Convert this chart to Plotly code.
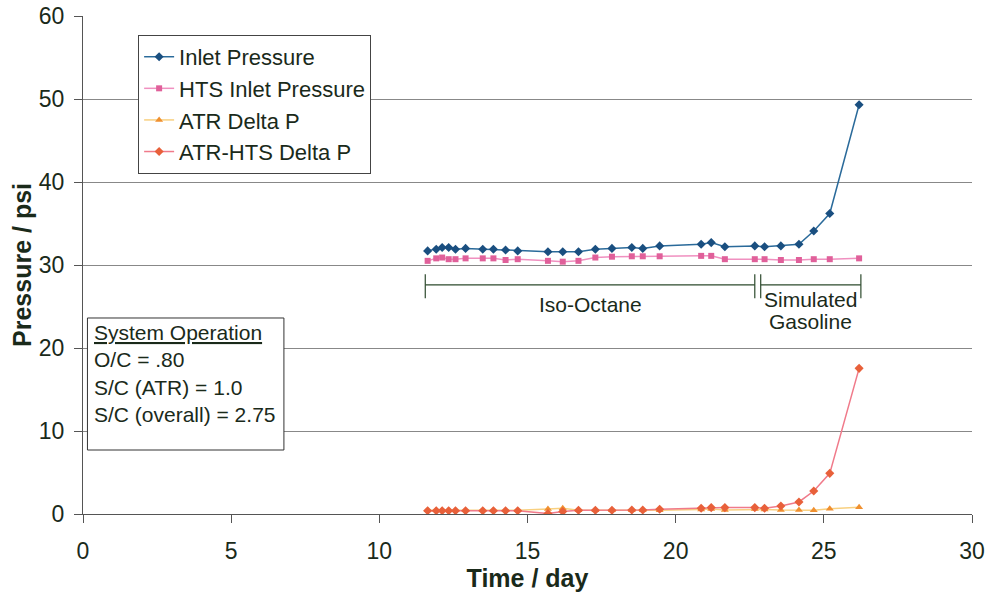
import plotly.graph_objects as go

# ---- data ----
days = [11.63, 11.92, 12.12, 12.34, 12.57, 12.91, 13.49, 13.85, 14.26, 14.67,
        15.69, 16.19, 16.72, 17.29, 17.85, 18.52, 18.89, 19.46, 20.86, 21.20,
        21.66, 22.67, 23.00, 23.55, 24.16, 24.66, 25.20, 26.19]
inlet_pressure = [31.7, 31.9, 32.1, 32.1, 31.9, 32.0, 31.9, 31.9, 31.8, 31.7,
                  31.6, 31.6, 31.6, 31.9, 32.0, 32.1, 32.0, 32.3, 32.5, 32.7,
                  32.2, 32.3, 32.2, 32.3, 32.5, 34.1, 36.2, 49.3]
hts_inlet_pressure = [30.5, 30.8, 30.9, 30.7, 30.7, 30.8, 30.8, 30.8, 30.6, 30.7,
                      30.5, 30.4, 30.5, 30.9, 31.0, 31.05, 31.05, 31.05, 31.1, 31.1,
                      30.7, 30.7, 30.7, 30.6, 30.6, 30.7, 30.7, 30.8]
atr_delta_p = [0.45, 0.45, 0.45, 0.45, 0.45, 0.45, 0.45, 0.45, 0.45, 0.45,
               0.6, 0.7, 0.45, 0.45, 0.45, 0.45, 0.45, 0.45, 0.55, 0.6,
               0.48, 0.6, 0.55, 0.48, 0.48, 0.44, 0.64, 0.8]
atr_hts_delta_p = [0.4, 0.4, 0.4, 0.4, 0.4, 0.4, 0.4, 0.4, 0.4, 0.4,
                   0.05, 0.3, 0.45, 0.45, 0.45, 0.48, 0.48, 0.57, 0.69, 0.77,
                   0.77, 0.77, 0.7, 0.96, 1.45, 2.77, 4.9, 17.55]

series_names = ["Inlet Pressure", "HTS Inlet Pressure", "ATR Delta P", "ATR-HTS Delta P"]
x_ticks = [0, 5, 10, 15, 20, 25, 30]
y_ticks = [0, 10, 20, 30, 40, 50, 60]

# fuel phases: (label lines, start day, end day)
phases = [(["Iso-Octane"], 11.55, 22.67), (["Simulated", "Gasoline"], 22.87, 26.25)]
bracket_level = 27.6
system_title = "System Operation"
system_text = ["O/C = .80", "S/C (ATR) = 1.0", "S/C (overall) = 2.75"]

FONT = "Liberation Sans, Arial, sans-serif"
TXT = "#1a2a1a"
fig = go.Figure()

styles = [
    dict(line=dict(color="#2a6a9a", width=1.5), marker=dict(symbol="diamond", size=7, color="#1a4f80")),
    dict(line=dict(color="#f090c0", width=1.5), marker=dict(symbol="square", size=6, color="#e0609a")),
    dict(line=dict(color="#f8d080", width=1.5), marker=dict(symbol="triangle-up", size=7, color="#f09030")),
    dict(line=dict(color="#f07a8a", width=1.5), marker=dict(symbol="diamond", size=7, color="#e8603a")),
]
for name, ys, st in zip(series_names,
                        [inlet_pressure, hts_inlet_pressure, atr_delta_p, atr_hts_delta_p],
                        styles):
    fig.add_trace(go.Scatter(x=days, y=ys, name=name, mode="lines+markers", **st))

# phase brackets
for lines, x0, x1 in phases:
    fig.add_shape(type="line", x0=x0, x1=x1, y0=bracket_level, y1=bracket_level,
                  xref="x", yref="y", line=dict(color="#2d4a2d", width=1.2))
    for xv in (x0, x1):
        fig.add_shape(type="line", x0=xv, x1=xv, y0=bracket_level - 1.6, y1=bracket_level + 1.3,
                      xref="x", yref="y", line=dict(color="#2d4a2d", width=1.2))
    top = bracket_level - (2.4 if len(lines) == 1 else 1.8)
    for i, ln in enumerate(lines):
        fig.add_annotation(x=(x0 + x1) / 2, y=top - i * 2.65, text=ln, showarrow=False,
                           xref="x", yref="y", yanchor="middle",
                           font=dict(family=FONT, size=21, color=TXT))

# System operation box
fig.add_shape(type="rect", xref="paper", yref="paper",
              x0=0.005, x1=0.226, y0=0.1285, y1=0.3936,
              line=dict(color="#333333", width=1), fillcolor="white")
fig.add_annotation(xref="paper", yref="paper", x=0.0105, y=0.392, xanchor="left", yanchor="top",
                   align="left", showarrow=False,
                   text="<u>" + system_title + "</u><br>" + "<br>".join(system_text),
                   font=dict(family=FONT, size=21, color=TXT))

fig.update_layout(
    width=988, height=596,
    margin=dict(l=83, r=16, t=16, b=82),
    paper_bgcolor="white", plot_bgcolor="white",
    font=dict(family=FONT, size=23, color=TXT),
    showlegend=True,
    legend=dict(x=0.062, y=0.962, xanchor="left", yanchor="top",
                bgcolor="white", bordercolor="#444444", borderwidth=1,
                font=dict(family=FONT, size=22, color=TXT),
                itemwidth=30, tracegroupgap=0),
)
fig.update_xaxes(range=[0, 30], tickvals=x_ticks, showgrid=False, zeroline=False,
                 showline=True, linecolor="#555555", linewidth=1,
                 ticks="outside", ticklen=8, tickcolor="#555555",
                 tickfont=dict(size=23), automargin=False, ticklabelstandoff=8,
                 ticklabeloverflow="allow",
                 title=dict(text="<b>Time / day</b>", font=dict(size=25), standoff=4))
fig.update_yaxes(range=[0, 60], tickvals=y_ticks, showgrid=True, gridcolor="#888888", gridwidth=1,
                 zeroline=False, showline=True, linecolor="#555555", linewidth=1,
                 ticks="outside", ticklen=8, tickcolor="#555555",
                 tickfont=dict(size=23), automargin=False, ticklabelstandoff=5,
                 ticklabeloverflow="allow",
                 title=dict(text="<b>Pressure / psi</b>", font=dict(size=25), standoff=0))

fig.write_html("out.html", config={"displayModeBar": False},
               post_script="document.body.style.margin='0';document.body.style.overflow='hidden';")
